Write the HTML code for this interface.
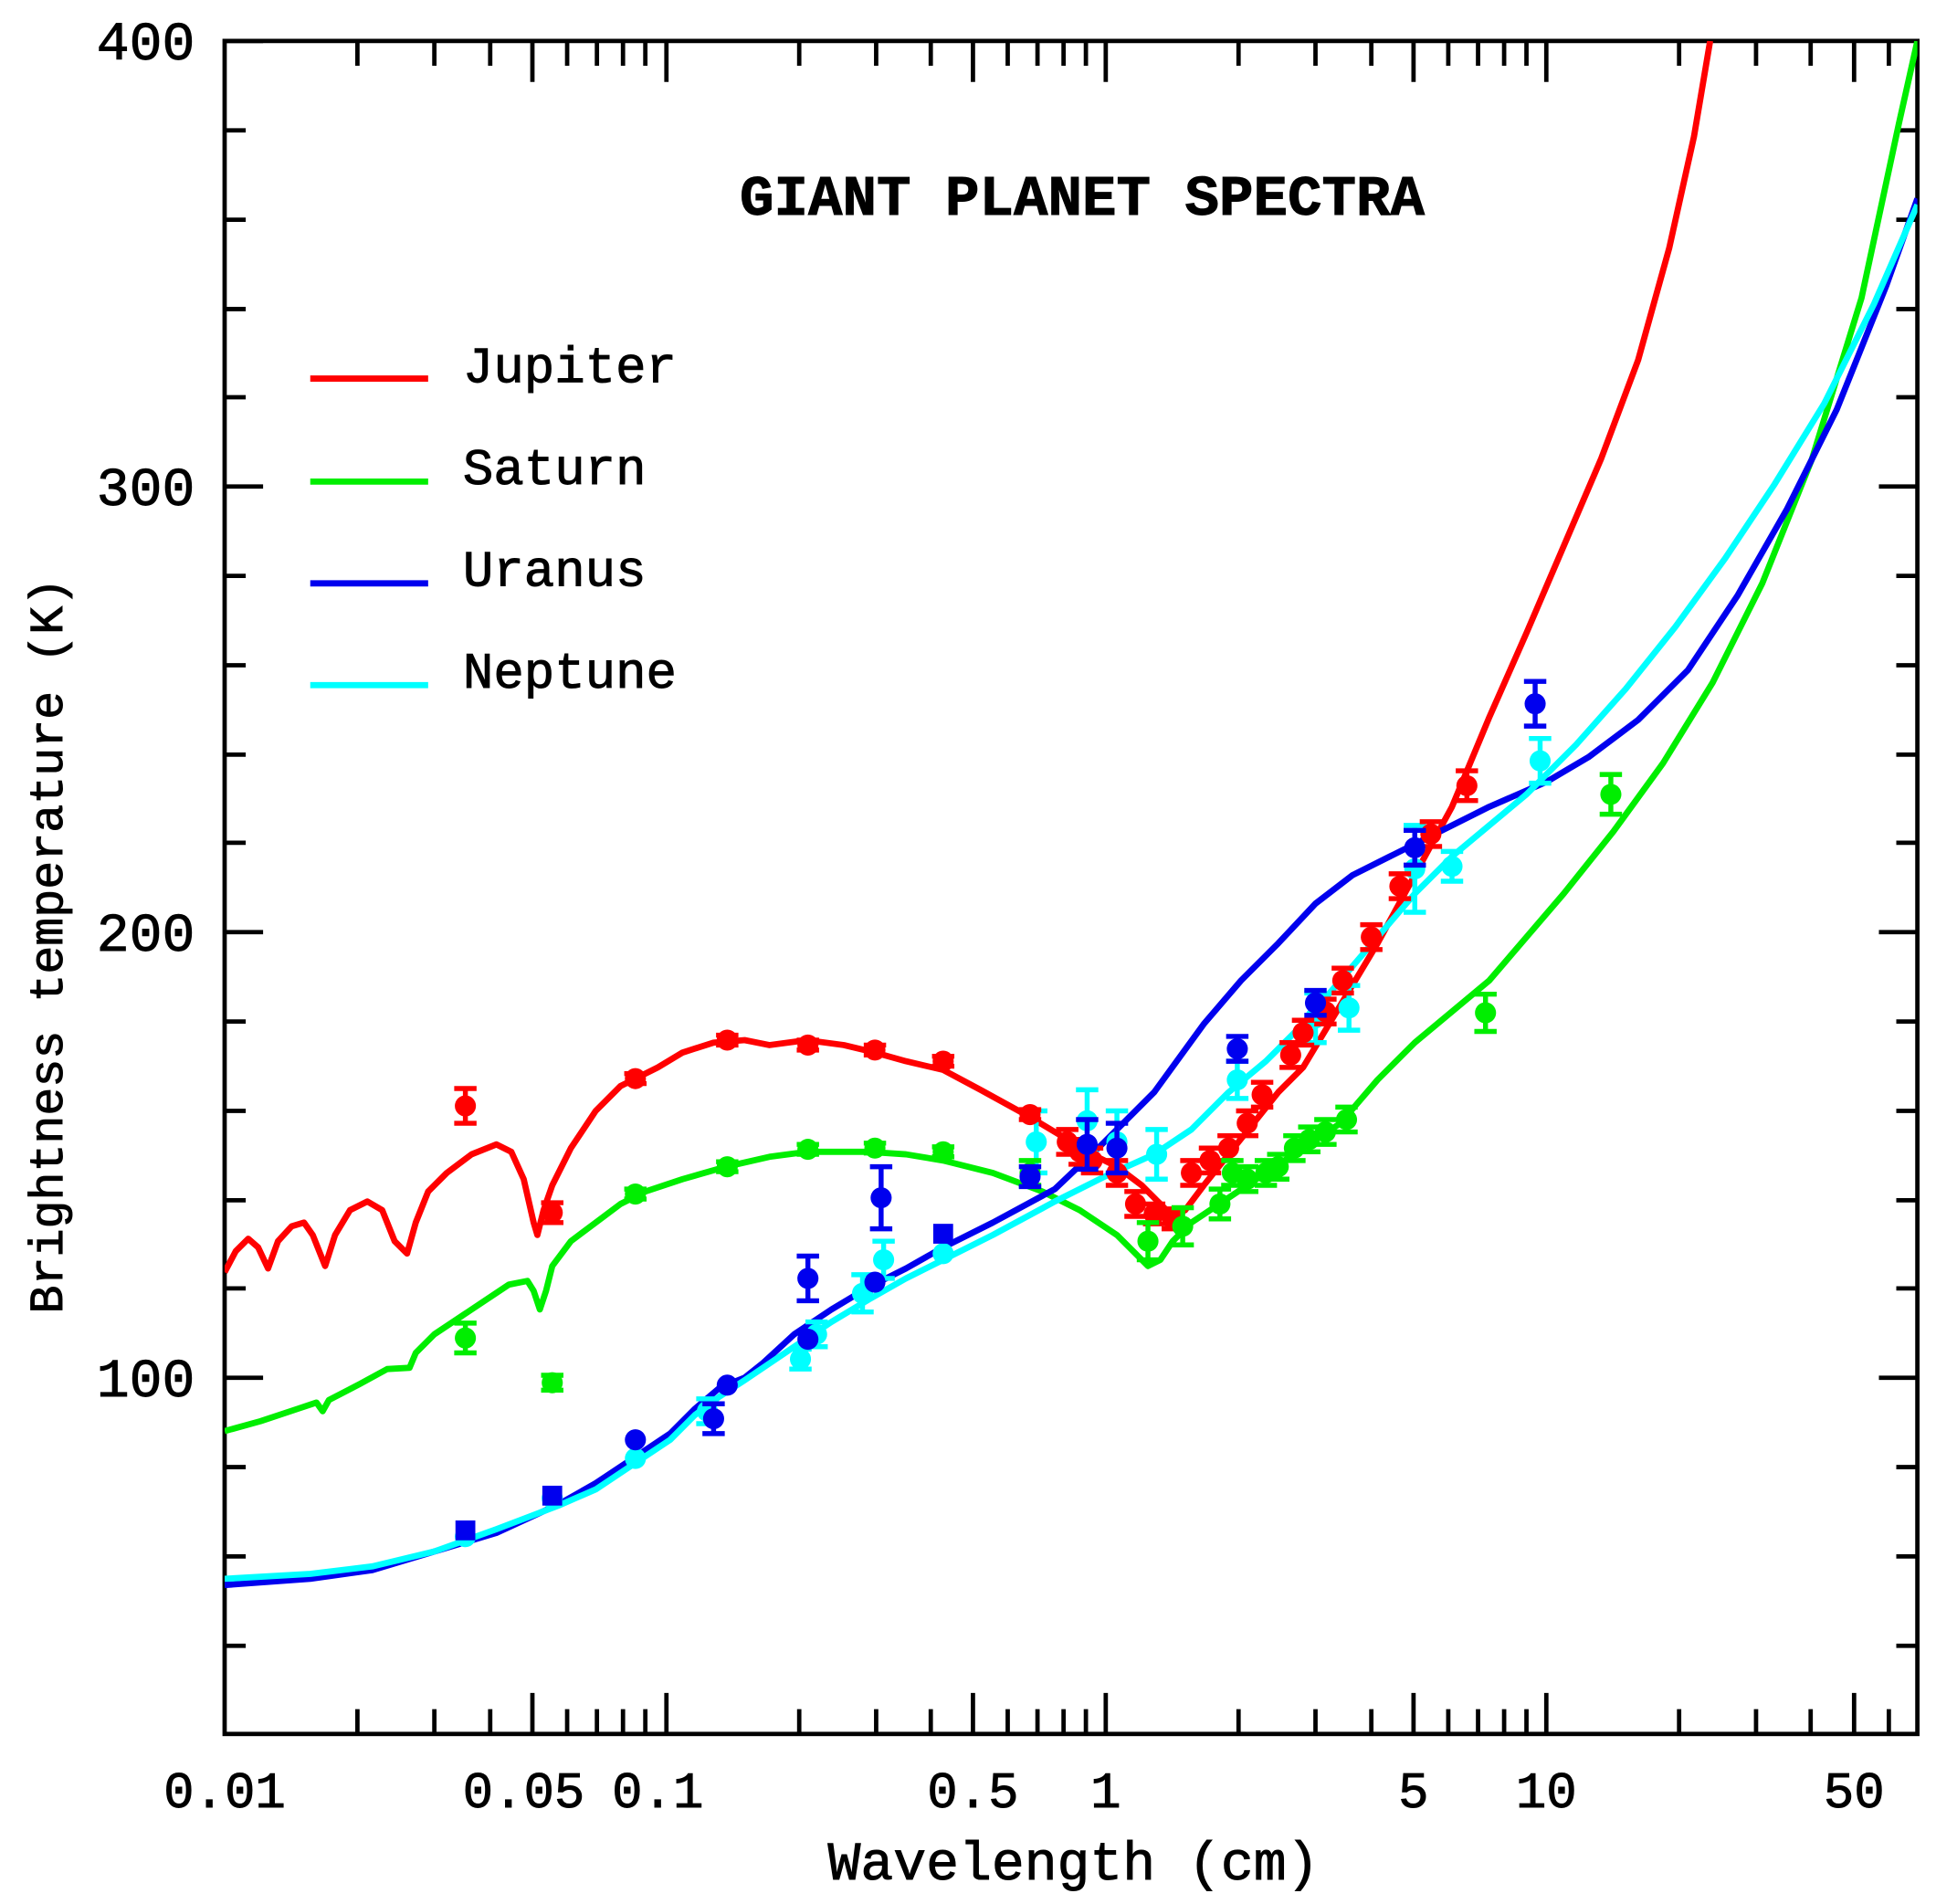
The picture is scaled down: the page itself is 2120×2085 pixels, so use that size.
<!DOCTYPE html>
<html><head><meta charset="utf-8"><style>
html,body{margin:0;padding:0;background:#fff;width:2120px;height:2085px;overflow:hidden}
svg{display:block}
text{font-family:"Liberation Mono",monospace;fill:#000;stroke:#000;stroke-width:0.7}
</style></head><body>
<svg width="2120" height="2085" viewBox="0 0 1560 1534" preserveAspectRatio="none" xmlns="http://www.w3.org/2000/svg">
<g stroke="#000" stroke-width="3.5" fill="none">
<rect x="181" y="33" width="1364" height="1364"/>
<path d="M181,33h31M181,105h17M181,177h17M181,249h17M181,320h17M181,392h31M181,464h17M181,536h17M181,608h17M181,679h17M181,751h31M181,823h17M181,895h17M181,967h17M181,1038h17M181,1110h31M181,1182h17M181,1254h17M181,1326h17
M1545,105h-17M1545,177h-17M1545,249h-17M1545,320h-17M1545,392h-31M1545,464h-17M1545,536h-17M1545,608h-17M1545,679h-17M1545,751h-31M1545,823h-17M1545,895h-17M1545,967h-17M1545,1038h-17M1545,1110h-31M1545,1182h-17M1545,1254h-17M1545,1326h-17"/>
<path d="M288,1397v-20M350,1397v-20M395,1397v-20M429,1397v-33M457,1397v-20M481,1397v-20M502,1397v-20M520,1397v-20M537,1397v-33M644,1397v-20M706,1397v-20M750,1397v-20M784,1397v-33M812,1397v-20M836,1397v-20M857,1397v-20M875,1397v-20M891,1397v-33M998,1397v-20M1060,1397v-20M1105,1397v-20M1139,1397v-33M1167,1397v-20M1191,1397v-20M1212,1397v-20M1230,1397v-20M1246,1397v-33M1353,1397v-20M1415,1397v-20M1459,1397v-20M1494,1397v-33M1522,1397v-20
M288,33v20M350,33v20M395,33v20M429,33v33M457,33v20M481,33v20M502,33v20M520,33v20M537,33v33M644,33v20M706,33v20M750,33v20M784,33v33M812,33v20M836,33v20M857,33v20M875,33v20M891,33v33M998,33v20M1060,33v20M1105,33v20M1139,33v33M1167,33v20M1191,33v20M1212,33v20M1230,33v20M1246,33v33M1353,33v20M1415,33v20M1459,33v20M1494,33v33M1522,33v20"/>
</g>
<g font-size="44" text-anchor="end">
<text x="157" y="48">400</text><text x="157" y="407">300</text><text x="157" y="766">200</text><text x="157" y="1125">100</text>
</g>
<g font-size="41" text-anchor="middle">
<text x="181" y="1456">0.01</text><text x="422" y="1456">0.05</text><text x="530" y="1456">0.1</text><text x="784" y="1456">0.5</text><text x="891" y="1456">1</text><text x="1139" y="1456">5</text><text x="1246" y="1456">10</text><text x="1494" y="1456">50</text>
<text x="865" y="1514" font-size="44">Wavelength (cm)</text>
<text transform="translate(50,762) rotate(-90)" font-size="38">Brightness temperature (K)</text>
</g>
<text x="872" y="173" font-size="46" font-weight="bold" text-anchor="middle">GIANT PLANET SPECTRA</text>
<g stroke-width="5" fill="none">
<line x1="250" y1="305" x2="345" y2="305" stroke="#ff0000"/>
<line x1="250" y1="388" x2="345" y2="388" stroke="#00ee00"/>
<line x1="250" y1="470" x2="345" y2="470" stroke="#0000ee"/>
<line x1="250" y1="552" x2="345" y2="552" stroke="#00ffff"/>
</g>
<g font-size="41">
<text x="373" y="308">Jupiter</text>
<text x="373" y="390">Saturn</text>
<text x="373" y="472">Uranus</text>
<text x="373" y="554">Neptune</text>
</g>
<defs><clipPath id="c"><rect x="181" y="33" width="1364" height="1364"/></clipPath></defs>
<g clip-path="url(#c)" fill="none" stroke-width="5" stroke-linejoin="round">
<polyline stroke="#ff0000" points="181,1025 190,1008 200,998 208,1005 216,1022 224,1000 235,988 245,985 252,995 262,1020 270,995 282,975 296,968 308,975 318,1000 328,1010 335,985 345,960 360,945 380,930 400,922 412,928 422,950 430,985 433,995 438,975 445,955 460,925 480,895 500,875 510,870 530,860 550,848 575,840 600,838 620,842 650,838 680,842 705,848 730,855 760,862 790,878 830,900 860,918 880,930 900,940 920,955 935,970 945,980 955,975 970,955 990,930 1010,905 1030,880 1050,860 1080,810 1110,760 1140,705 1170,650 1200,578 1230,510 1260,440 1290,370 1320,290 1345,200 1365,110 1378,33"/>
<polyline stroke="#00ee00" points="181,1153 210,1145 240,1135 255,1130 260,1137 265,1128 290,1115 312,1103 330,1102 335,1090 350,1075 380,1055 410,1035 425,1032 430,1040 435,1055 440,1040 445,1020 460,1000 480,985 500,970 520,960 550,950 585,940 620,932 650,928 700,928 730,930 760,935 800,945 840,960 870,975 900,995 915,1010 925,1020 935,1015 945,1000 960,985 990,965 1020,945 1050,925 1080,905 1110,870 1140,840 1170,815 1200,790 1230,755 1260,720 1300,670 1340,615 1380,550 1420,470 1460,370 1500,240 1530,100 1545,33"/>
<polyline stroke="#0000ee" points="181,1277 250,1272 300,1265 350,1250 400,1235 450,1212 480,1195 510,1175 540,1155 560,1135 580,1118 600,1110 615,1098 640,1075 670,1055 700,1037 730,1022 760,1005 800,985 850,958 890,920 930,880 970,825 1000,790 1030,760 1060,728 1090,705 1120,690 1160,670 1200,650 1246,630 1280,610 1320,580 1360,540 1400,480 1440,410 1480,330 1520,230 1545,160"/>
<polyline stroke="#00ffff" points="181,1272 250,1268 300,1262 350,1250 400,1232 450,1213 480,1200 510,1180 540,1160 560,1140 580,1125 600,1112 640,1085 670,1065 700,1047 730,1030 760,1015 800,995 850,968 890,948 930,930 960,910 990,880 1020,855 1050,825 1080,790 1110,755 1140,720 1170,690 1200,665 1230,640 1270,600 1310,555 1350,505 1390,450 1430,390 1470,325 1510,245 1545,165"/>
</g>
<g id="pts" stroke-width="4"></g>
<script>
var g=document.getElementById('pts'),NS='http://www.w3.org/2000/svg';
function pt(c,x,y,e,sq){
 if(e){var p=document.createElementNS(NS,'path');p.setAttribute('d','M'+x+','+(y-e)+'V'+(y+e)+'M'+(x-9)+','+(y-e)+'h18M'+(x-9)+','+(y+e)+'h18');p.setAttribute('stroke',c);g.appendChild(p);}
 var s;if(sq){s=document.createElementNS(NS,'rect');s.setAttribute('x',x-8);s.setAttribute('y',y-8);s.setAttribute('width',16);s.setAttribute('height',16);}
 else{s=document.createElementNS(NS,'circle');s.setAttribute('cx',x);s.setAttribute('cy',y);s.setAttribute('r',8.5);}
 s.setAttribute('fill',c);g.appendChild(s);}
var C='#00ffff';
[[375,1238],[445,1207],[512,1175],[570,1137,10],[645,1095,8],[658,1075,10],[695,1042,15],[712,1015,15],[760,1010],[835,920,25],[876,903,25],[900,920,25],[932,930,20],[997,870,15],[1060,820,20],[1087,812,18],[1140,700,35],[1170,698,12],[1241,613,18]].forEach(function(a){pt(C,a[0],a[1],a[2]);});
var R='#ff0000';
[[375,891,14],[445,977,8],[512,869,4],[586,838,4],[651,842,4],[705,846,4],[760,855,4],[830,898,4],[860,920,10],[870,928,10],[880,935,10],[900,945,10],[915,970,10],[930,978,8],[945,982,8],[960,945,10],[975,935,10],[990,925,10],[1005,905,10],[1017,882,10],[1040,850,10],[1050,832,10],[1068,815,10],[1082,790,10],[1105,755,10],[1128,714,10],[1153,672,10],[1182,633,12]].forEach(function(a){pt(R,a[0],a[1],a[2]);});
var G='#00ee00';
[[375,1078,12],[445,1114,6],[512,962,4],[586,940,4],[651,926,4],[705,925,4],[760,928,4],[830,945,10],[925,1000,15],[953,988,15],[983,970,12],[993,945,10],[1005,950,10],[1020,945,10],[1030,940,10],[1043,925,10],[1055,918,10],[1068,912,10],[1085,902,10],[1197,816,15],[1298,640,16]].forEach(function(a){pt(G,a[0],a[1],a[2]);});
var B='#0000ee';
[[375,1233,0,1],[445,1205,0,1],[760,994,0,1],[512,1160],[575,1143,12],[586,1116],[651,1079],[651,1030,18],[705,1033],[710,965,25],[830,948,8],[876,922,20],[900,925,20],[997,845,10],[1060,808,10],[1140,683,14],[1237,567,18]].forEach(function(a){pt(B,a[0],a[1],a[2],a[3]);});
</script>
</svg>
</body></html>
